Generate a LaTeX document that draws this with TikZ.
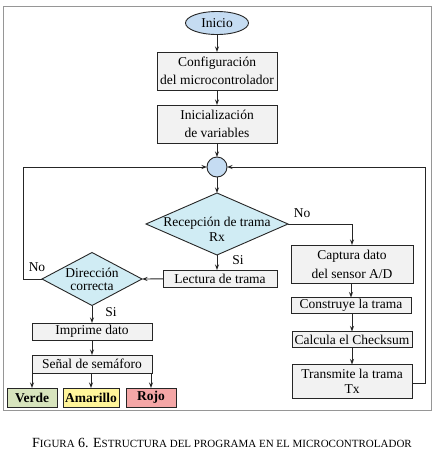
\documentclass[tikz,border=0pt]{standalone}
\usepackage{fontspec}
\setmainfont{Liberation Serif}
\usetikzlibrary{shapes.geometric,arrows.meta}
\definecolor{ellblue}{RGB}{197,220,242}
\definecolor{diablue}{RGB}{208,236,244}
\definecolor{boxgray}{RGB}{242,242,242}
\definecolor{verdefill}{RGB}{215,228,189}
\definecolor{amafill}{RGB}{255,245,154}
\definecolor{rojofill}{RGB}{244,166,166}
\definecolor{framegray}{RGB}{150,150,150}
\newcommand\bigsc[1]{{\fontsize{14}{16}\selectfont #1}}
\newcommand\smsc[1]{{\fontsize{11}{16}\selectfont #1}}
\begin{document}
\begin{tikzpicture}[x=1pt,y=-1pt,
  every node/.style={font=\fontsize{13.5}{18}\selectfont, inner sep=0pt, outer sep=0pt},
  procbox/.style={draw=black!85, line width=0.9pt, fill=boxgray, rectangle, align=center},
  decis/.style={draw=black!85, line width=0.9pt, fill=diablue, diamond},
  colbox/.style={draw=black!85, line width=0.9pt, rectangle, font=\fontsize{13.5}{17}\selectfont\bfseries},
  arr/.style={-{Stealth[length=5.5pt,width=4pt]}, line width=0.9pt, black!85},
  lab/.style={font=\fontsize{13.5}{17}\selectfont}
]
\useasboundingbox (0,0) rectangle (437,469);
\fill[white] (0,0) rectangle (437,469);
\draw[framegray, line width=0.9pt] (3,6) rectangle (431,410);

\node[draw=black!85, line width=0.9pt, fill=ellblue, ellipse, minimum width=63pt, minimum height=23pt] (inicio) at (217,23) {Inicio};
\node[procbox, minimum width=120pt, minimum height=38pt] (config) at (217,71) {Configuración\\del microcontrolador};
\node[procbox, minimum width=120pt, minimum height=38pt] (init) at (217,124) {Inicialización\\de variables};
\node[draw=black!85, line width=0.9pt, fill=ellblue, circle, minimum size=20pt] (circ) at (217,167) {};
\node[decis, minimum width=142pt, minimum height=62pt] (recep) at (217,224) {};
\node[align=center, font=\fontsize{13.5}{15}\selectfont] (recept) at (217,229) {Recepción de trama\\Rx};
\node[procbox, minimum width=114pt, minimum height=17pt] (lect) at (220,278.5) {Lectura de trama};
\node[decis, minimum width=100pt, minimum height=53pt] (direc) at (92,279) {};
\node[align=center, font=\fontsize{13.5}{13}\selectfont] (direct) at (92,279) {Dirección\\correcta};
\node[procbox, minimum width=120pt, minimum height=17pt] (impr) at (92,331.5) {Imprime dato};
\node[procbox, minimum width=120pt, minimum height=18pt] (senal) at (92,364) {Señal de semáforo};
\node[colbox, fill=verdefill, minimum width=50pt, minimum height=19pt] (verde) at (32,397.5) {Verde};
\node[colbox, fill=amafill, minimum width=56pt, minimum height=19pt] (ama) at (91,397.5) {Amarillo};
\node[colbox, fill=rojofill, minimum width=50pt, minimum height=19pt] (rojo) at (151,397.5) {Rojo};

\node[procbox, minimum width=122pt, minimum height=38pt, font=\fontsize{13.5}{19}\selectfont] (capt) at (352,264) {Captura dato\\del sensor A/D};
\node[procbox, minimum width=120pt, minimum height=16pt] (constr) at (351,305.5) {Construye la trama};
\node[procbox, minimum width=120pt, minimum height=16pt] (calc) at (352,339.5) {Calcula el Checksum};
\node[procbox, minimum width=120pt, minimum height=34pt, font=\fontsize{13.5}{15.5}\selectfont] (trans) at (352,381.5) {Transmite la trama\\Tx};

\coordinate (rc1) at (352,224);
\coordinate (lp1) at (23,279);
\coordinate (lp2) at (23,167);
\coordinate (rp1) at (425,383);
\coordinate (rp2) at (425,167);

\draw[arr] (inicio) -- (config);
\draw[arr] (config) -- (init);
\draw[arr] (init) -- (circ);
\draw[arr] (circ) -- (recep.north);
\draw[arr] (recep.south) -- (recep.south |- lect.north);
\draw[arr] (lect) -- (direc.east);
\draw[arr] (recep.east) -- (rc1) -- (capt.north -| rc1);
\draw[arr] (direc.west) -- (lp1) -- (lp2) -- (circ.west);
\draw[arr] (trans.east |- rp1) -- (rp1) -- (rp2) -- (circ.east);
\draw[arr] (direc.south) -- (impr);
\draw[arr] (impr) -- (senal);
\draw[arr] (senal.south -| verde.north) -- (verde);
\draw[arr] (senal.south -| ama.north) -- (ama);
\draw[arr] (senal.south -| rojo.north) -- (rojo);
\draw[arr] (capt.south -| constr.north) -- (constr);
\draw[arr] (constr.south -| calc.north) -- (calc);
\draw[arr] (calc.south -| trans.north) -- (trans);

\node[lab] (si1) at (238,260) {Si};
\node[lab] (no1) at (302,213) {No};
\node[lab] (no2) at (37,267) {No};
\node[lab] (si2) at (111,312) {Si};

\node (cap) at (222,443) {\bigsc{F}\smsc{IGURA} \bigsc{6.} \bigsc{E}\smsc{STRUCTURA DEL PROGRAMA EN EL MICROCONTROLADOR}};
\end{tikzpicture}
\end{document}
